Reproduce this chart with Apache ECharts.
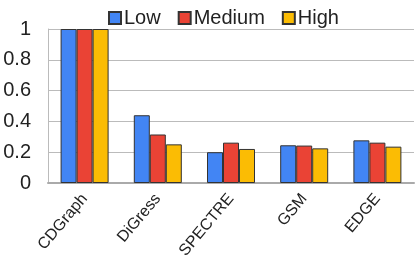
<!DOCTYPE html>
<html><head><meta charset="utf-8">
<script src="https://cdn.jsdelivr.net/npm/echarts@6/dist/echarts.min.js"></script>
<style>html,body{margin:0;padding:0;background:#fff}#c{width:416px;height:258px}</style>
</head><body><div id="c"></div>
<script>
const categories = ['CDGraph', 'DiGress', 'SPECTRE', 'GSM', 'EDGE'];
const seriesNames = ['Low', 'Medium', 'High'];
const lowValues = [1.0, 0.44, 0.20, 0.245, 0.277];
const mediumValues = [1.0, 0.315, 0.262, 0.243, 0.262];
const highValues = [1.0, 0.251, 0.221, 0.225, 0.236];
const yTicks = [0, 0.2, 0.4, 0.6, 0.8, 1];
const colors = ['#4285F4', '#EA4335', '#FBBC04'];
const values = [lowValues, mediumValues, highValues];

const chart = echarts.init(document.getElementById('c'), null, {renderer: 'canvas'});
const font = 'Liberation Sans, Arial, sans-serif';
chart.setOption({
  animation: false,
  textStyle: {fontFamily: font},
  legend: {
    top: 3, left: 103,
    itemWidth: 12, itemHeight: 12, itemGap: 17,
    textStyle: {fontSize: 20, color: '#222', fontFamily: font, padding: [0, 0, 0, -2]},
    data: seriesNames.map((n) => ({name: n, icon: 'rect'}))
  },
  grid: {left: 48, right: 2, top: 29, bottom: 75, containLabel: false, outerBoundsMode: 'none'},
  xAxis: {
    type: 'category', data: categories,
    axisLine: {lineStyle: {color: '#aaa', width: 2}},
    axisTick: {show: false},
    axisLabel: {rotate: 50, fontSize: 16, color: '#222', margin: 13, interval: 0, fontFamily: font, hideOverlap: false}
  },
  yAxis: {
    type: 'value', min: yTicks[0], max: yTicks[yTicks.length - 1], interval: 0.2,
    axisLine: {show: true, lineStyle: {color: '#bbb', width: 1}},
    axisTick: {show: false},
    splitLine: {lineStyle: {color: '#bbb', width: 1}},
    axisLabel: {fontSize: 20, color: '#222', margin: 17, fontFamily: font,
      formatter: (v) => String(Math.round(v * 10) / 10)}
  },
  series: seriesNames.map((n, i) => ({
    name: n, type: 'bar', data: values[i],
    barWidth: 16, barGap: '0%',
    itemStyle: {color: colors[i], borderColor: '#333', borderWidth: 1}
  }))
});
</script></body></html>
